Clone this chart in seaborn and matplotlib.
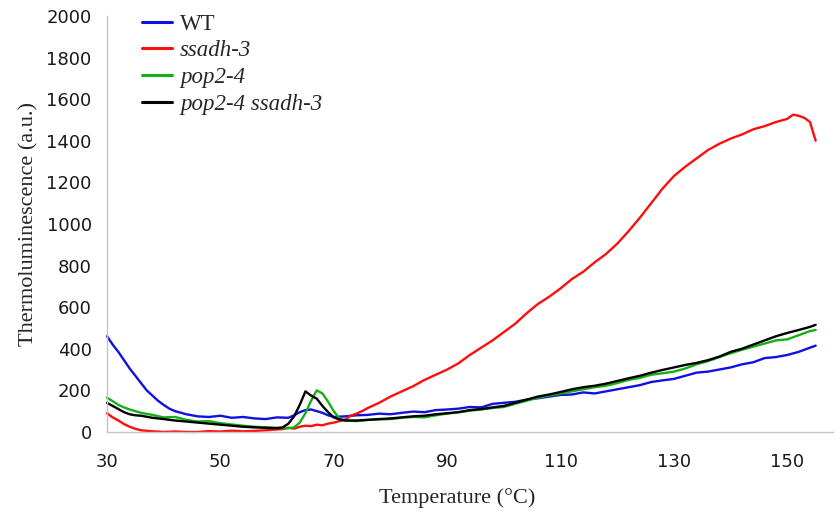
import pandas as pd
import matplotlib.pyplot as plt
import seaborn as sns

# Thermoluminescence curves
wt_t = [30, 31, 32, 33, 34, 35, 36, 37, 38, 39, 40, 41, 42, 44, 46, 48, 50, 52, 54, 56,
        58, 60, 62, 63, 64, 65, 66, 67, 68, 69, 70, 72, 74, 76, 78, 80, 82, 84, 86, 88,
        90, 92, 94, 96, 98, 100, 102, 104, 106, 108, 110, 112, 114, 116, 118, 120, 122,
        124, 126, 128, 130, 132, 134, 136, 138, 140, 142, 144, 146, 148, 150, 152, 154, 155]
wt_tl = [460, 420, 385, 345, 305, 270, 235, 200, 175, 150, 130, 112, 100, 85, 75, 72, 78,
         68, 72, 65, 62, 70, 68, 80, 95, 105, 108, 100, 92, 80, 72, 75, 80, 82, 88, 85, 92,
         98, 95, 105, 108, 112, 120, 118, 135, 140, 145, 155, 162, 170, 178, 180, 190, 185,
         195, 205, 215, 225, 240, 248, 255, 270, 285, 290, 300, 310, 325, 335, 355, 360,
         370, 385, 405, 415]

ssadh_t = [30, 31, 32, 33, 34, 35, 36, 38, 40, 42, 44, 46, 48, 50, 52, 54, 56, 58, 60, 61,
           62, 63, 64, 65, 66, 67, 68, 69, 70, 71, 72, 73, 74, 75, 76, 78, 80, 82, 84, 86,
           88, 90, 92, 94, 96, 98, 100, 102, 104, 106, 108, 110, 112, 114, 116, 118, 120,
           122, 124, 126, 128, 130, 132, 134, 136, 138, 140, 142, 144, 146, 148, 150, 151,
           152, 153, 154, 155]
ssadh_tl = [90, 70, 55, 38, 25, 15, 8, 3, 0, 2, 0, 0, 4, 2, 6, 3, 5, 8, 12, 14, 20, 16, 25,
            30, 28, 35, 32, 40, 45, 52, 60, 78, 88, 100, 115, 140, 170, 195, 220, 250, 275,
            300, 330, 370, 405, 440, 480, 520, 570, 615, 650, 690, 735, 770, 815, 855, 905,
            965, 1030, 1100, 1170, 1230, 1275, 1315, 1355, 1385, 1410, 1430, 1455, 1470,
            1490, 1505, 1525, 1520, 1510, 1490, 1400]

pop_t = [30, 31, 32, 33, 34, 35, 36, 38, 40, 42, 44, 46, 48, 50, 52, 54, 56, 58, 60, 62, 63,
         64, 65, 66, 67, 68, 69, 70, 71, 72, 74, 76, 78, 80, 82, 84, 86, 88, 90, 92, 94, 96,
         98, 100, 102, 104, 106, 108, 110, 112, 114, 116, 118, 120, 122, 124, 126, 128, 130,
         132, 134, 136, 138, 140, 142, 144, 146, 148, 150, 152, 154, 155]
pop_tl = [165, 148, 130, 118, 108, 100, 92, 82, 70, 72, 58, 50, 52, 42, 36, 30, 25, 22, 20,
          18, 22, 45, 90, 150, 200, 185, 145, 100, 65, 55, 52, 58, 60, 62, 68, 72, 70, 80,
          88, 95, 102, 108, 115, 120, 135, 150, 165, 175, 185, 195, 205, 215, 222, 235, 250,
          260, 275, 282, 290, 305, 325, 340, 360, 378, 395, 410, 425, 440, 445, 465, 485, 490]

double_t = [30, 31, 32, 33, 34, 35, 36, 38, 40, 42, 44, 46, 48, 50, 52, 54, 56, 58, 60, 61,
            62, 63, 64, 65, 66, 67, 68, 69, 70, 71, 72, 74, 76, 78, 80, 82, 84, 86, 88, 90,
            92, 94, 96, 98, 100, 102, 104, 106, 108, 110, 112, 114, 116, 118, 120, 122, 124,
            126, 128, 130, 132, 134, 136, 138, 140, 142, 144, 146, 148, 150, 152, 154, 155]
double_tl = [140, 125, 110, 95, 85, 80, 78, 68, 62, 55, 50, 45, 40, 35, 30, 25, 22, 20, 18,
             22, 40, 75, 130, 195, 175, 160, 125, 95, 70, 60, 55, 55, 58, 62, 65, 70, 75, 78,
             85, 90, 95, 105, 110, 118, 125, 140, 155, 170, 180, 192, 205, 215, 222, 232,
             245, 258, 270, 285, 298, 310, 322, 332, 345, 362, 385, 400, 420, 440, 460, 476,
             490, 505, 515]

labels = ['WT', 'ssadh-3', 'pop2-4', 'pop2-4 ssadh-3']
colors = ['#1010e0', '#ff0d0d', '#16b016', '#000000']

frames = []
for lab, t, v in zip(labels, [wt_t, ssadh_t, pop_t, double_t],
                     [wt_tl, ssadh_tl, pop_tl, double_tl]):
    frames.append(pd.DataFrame({'Temperature': t, 'TL': v, 'line': lab}))
df = pd.concat(frames, ignore_index=True)

sns.set_style('white')

fig = plt.figure(figsize=(8.36, 5.13), dpi=100)
ax = fig.add_axes([0.128, 0.158, 0.868, 0.811])

sns.lineplot(data=df, x='Temperature', y='TL', hue='line', hue_order=labels,
             palette=dict(zip(labels, colors)), estimator=None, sort=False,
             linewidth=1.7, ax=ax, clip_on=False)

ax.set_xlim(30, 158)
ax.set_ylim(0, 2000)
ax.set_xticks(range(30, 151, 20))
ax.set_yticks(range(0, 2001, 200))

for s in ['top', 'right']:
    ax.spines[s].set_visible(False)
for s in ['left', 'bottom']:
    ax.spines[s].set_color('#c4c4c4')
    ax.spines[s].set_linewidth(1.0)
ax.tick_params(axis='both', direction='out', length=5, width=1, color='#c4c4c4',
               labelsize=13, labelcolor='#1a1a1a', pad=6)
ax.tick_params(axis='x', pad=10)
for lbl in ax.get_xticklabels() + ax.get_yticklabels():
    lbl.set_family('DejaVu Sans')

ax.set_xlabel('Temperature (°C)', family='Liberation Serif', fontsize=16)
ax.xaxis.set_label_coords(0.482, -0.135)
ax.set_ylabel('Thermoluminescence (a.u.)', family='Liberation Serif', fontsize=16,
              labelpad=6)

leg = ax.legend(loc='upper left', bbox_to_anchor=(0.02, 1.055), frameon=False,
                handlelength=1.3, handletextpad=0.35, labelspacing=0.25,
                prop={'family': 'Liberation Serif', 'size': 16.5})
for i, txt in enumerate(leg.get_texts()):
    if i > 0:
        txt.set_fontstyle('italic')
for h in leg.get_lines():
    h.set_linewidth(2.2)

fig.savefig('out.png', dpi=100)
plt.close(fig)
